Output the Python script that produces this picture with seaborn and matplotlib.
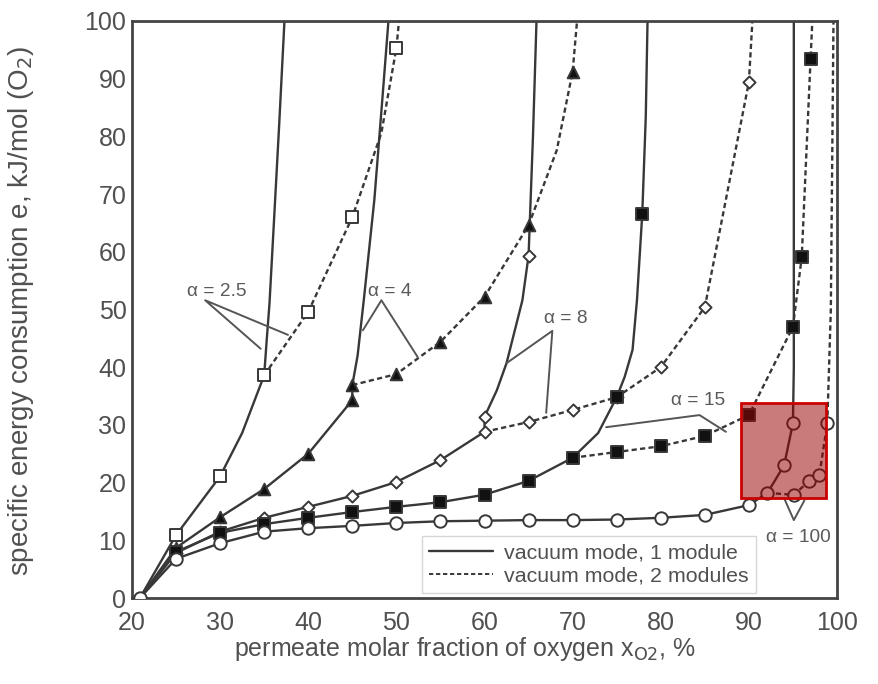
import matplotlib
matplotlib.use("Agg")
import matplotlib.pyplot as plt
import seaborn as sns
from matplotlib.lines import Line2D
from matplotlib.patches import Rectangle
from matplotlib.ticker import MultipleLocator

# alpha = 2.5 (open squares)
a25_x1 = [20.9, 25, 30, 32.5, 35, 35.3, 35.6, 36.1, 36.7, 37.3]
a25_y1 = [0, 10.9, 21.1, 28.6, 38.6, 45, 51, 65, 82, 100]
a25_mx1 = [25, 30, 35]
a25_my1 = [10.9, 21.1, 38.6]
a25_x2 = [35, 40, 45, 48.3, 50, 50.3]
a25_y2 = [38.6, 49.6, 66, 80.6, 95.3, 100]
a25_mx2 = [40, 45, 50]
a25_my2 = [49.6, 66, 95.3]

# alpha = 4 (filled triangles)
a4_x1 = [20.9, 25, 30, 35, 40, 45, 45, 45.6, 46.3, 47.5, 48.4, 49.1]
a4_y1 = [0, 8.7, 14.0, 18.9, 25.0, 34.3, 36.9, 42, 51.6, 69, 86.3, 100]
a4_mx1 = [25, 30, 35, 40, 45]
a4_my1 = [8.7, 14.0, 18.9, 25.0, 34.3]
a4_x2 = [45, 50, 55, 60, 65, 68.2, 70, 70.5]
a4_y2 = [36.9, 38.8, 44.4, 52.2, 64.6, 77.6, 91.2, 100]
a4_mx2 = [45, 50, 55, 60, 65, 70]
a4_my2 = [36.9, 38.8, 44.4, 52.2, 64.6, 91.2]

# alpha = 8 (open diamonds)
a8_x1 = [20.9, 25, 30, 35, 40, 45, 50, 55, 60, 60, 61.4, 62.5, 64.3, 65, 65.5, 65.9]
a8_y1 = [0, 7.8, 11.5, 13.9, 15.8, 17.7, 20.1, 23.9, 28.8, 31.4, 36, 40.7, 51.6, 59.3, 80, 100]
a8_mx1 = [25, 30, 35, 40, 45, 50, 55, 60, 60, 65]
a8_my1 = [7.8, 11.5, 13.9, 15.8, 17.7, 20.1, 23.9, 28.8, 31.4, 59.3]
a8_x2 = [60, 65, 70, 75, 80, 85, 90, 90.4]
a8_y2 = [28.8, 30.5, 32.6, 34.8, 40.0, 50.4, 89.4, 100]
a8_mx2 = [65, 70, 75, 80, 85, 90]
a8_my2 = [30.5, 32.6, 34.8, 40.0, 50.4, 89.4]

# alpha = 15 (filled squares)
a15_x1 = [20.9, 25, 30, 35, 40, 45, 50, 55, 60, 65, 70, 72.9, 75, 75.9, 76.8, 77.3,
          77.9, 78.3, 78.5]
a15_y1 = [0, 8.0, 11.3, 12.8, 13.9, 14.9, 15.8, 16.6, 17.9, 20.3, 24.3, 28.6, 34.8, 38.3, 43,
          51.6, 66.5, 83.4, 100]
a15_mx1 = [25, 30, 35, 40, 45, 50, 55, 60, 65, 70, 75, 77.9]
a15_my1 = [8.0, 11.3, 12.8, 13.9, 14.9, 15.8, 16.6, 17.9, 20.3, 24.3, 34.8, 66.5]
a15_x2 = [70, 75, 80, 85, 90, 95, 96, 97, 97.2]
a15_y2 = [24.3, 25.3, 26.3, 28.1, 31.7, 47, 59.1, 93.4, 100]
a15_mx2 = [75, 80, 85, 90, 95, 96, 97]
a15_my2 = [25.3, 26.3, 28.1, 31.7, 47, 59.1, 93.4]

# alpha = 100 (open circles)
a100_x1 = [20.9, 25, 30, 35, 40, 45, 50, 55, 60, 65, 70, 75, 80, 85, 90, 92.1, 94, 95, 95.1, 95.1]
a100_y1 = [0, 6.8, 9.5, 11.5, 12.1, 12.5, 13.0, 13.3, 13.4, 13.5, 13.5, 13.6, 13.9, 14.4, 16.1,
           18.2, 23, 30.3, 40, 100]
a100_mx1 = a100_x1[:18]
a100_my1 = a100_y1[:18]
a100_x2 = [92.1, 95.1, 96.8, 98, 98.9, 99.3, 99.6]
a100_y2 = [18.2, 17.9, 20.2, 21.3, 30.3, 50, 100]
a100_mx2 = [95.1, 96.8, 98, 98.9]
a100_my2 = [17.9, 20.2, 21.3, 30.3]

legend_labels = ["vacuum mode, 1 module", "vacuum mode, 2 modules"]

sns.set_style("white")
plt.rcParams['font.family'] = ['Liberation Sans', 'DejaVu Sans']

LC = '#383838'
TC = '#505050'
DASH = (0, (2.2, 1.4))

fig = plt.figure(figsize=(8.79, 6.84), dpi=100)
ax = fig.add_axes([132 / 879, 1 - 598 / 684, 705 / 879, 577 / 684])

curves = [
    (a25_x1, a25_y1, '-'), (a25_x2, a25_y2, DASH),
    (a4_x1, a4_y1, '-'), (a4_x2, a4_y2, DASH),
    (a8_x1, a8_y1, '-'), (a8_x2, a8_y2, DASH),
    (a15_x1, a15_y1, '-'), (a15_x2, a15_y2, DASH),
    (a100_x1, a100_y1, '-'), (a100_x2, a100_y2, DASH),
]
for cx, cy, ls in curves:
    sns.lineplot(x=cx, y=cy, sort=False, estimator=None, color=LC,
                 lw=1.7, linestyle=ls, ax=ax, zorder=2)

markers = [
    (a25_mx1 + a25_mx2, a25_my1 + a25_my2, 's', 'white', 85),
    (a4_mx1 + a4_mx2, a4_my1 + a4_my2, '^', '#111111', 70),
    (a8_mx1 + a8_mx2, a8_my1 + a8_my2, 'D', 'white', 38),
    (a15_mx1 + a15_mx2, a15_my1 + a15_my2, 's', '#111111', 75),
    (a100_mx1 + a100_mx2, a100_my1 + a100_my2, 'o', 'white', 80),
]
for mx, my, mk, fc, s in markers:
    sns.scatterplot(x=mx, y=my, marker=mk, color=fc, edgecolor=LC,
                    linewidth=1.4, s=s, ax=ax, zorder=3)

# alpha callouts
ann_kw = dict(color='#555555', lw=1.4, zorder=2)
ax.plot([34.6, 28.3, 37.7], [43.2, 51.6, 45.6], **ann_kw)
ax.plot([46.2, 48.3, 52.4], [46.4, 51.6, 41.8], **ann_kw)
ax.plot([62.5, 67.7, 67.0], [40.7, 46.3, 32.1], **ann_kw)
ax.plot([73.8, 84.4, 87.4], [29.6, 31.7, 28.8], **ann_kw)
ax.plot([94.0, 95.1, 96.3], [17.3, 13.5, 16.9], **ann_kw)

txt_kw = dict(fontsize=13.8, color='#5a5a5a', ha='center', va='center')
ax.text(29.6, 53.2, "α = 2.5", **txt_kw)
ax.text(49.3, 53.2, "α = 4", **txt_kw)
ax.text(69.2, 48.5, "α = 8", **txt_kw)
ax.text(84.2, 34.2, "α = 15", **txt_kw)
ax.text(95.6, 10.4, "α = 100", **txt_kw)

# highlighted region
ax.add_patch(Rectangle((89.1, 17.3), 9.7, 16.5, facecolor=(0.6, 0.0, 0.0, 0.52),
                       edgecolor='#cc0000', lw=2, zorder=5))

ax.set_xlim(20, 100)
ax.set_ylim(0, 100)
ax.xaxis.set_major_locator(MultipleLocator(10))
ax.xaxis.set_minor_locator(MultipleLocator(2))
ax.yaxis.set_major_locator(MultipleLocator(10))
ax.yaxis.set_minor_locator(MultipleLocator(1))
ax.tick_params(which='both', direction='in', top=False, right=False,
               colors='#444444', labelcolor=TC, labelsize=18)
ax.tick_params(axis='x', which='major', pad=9)
ax.tick_params(axis='y', which='major', pad=4)
ax.tick_params(which='major', length=6, width=1.3)
ax.tick_params(which='minor', length=3.5, width=1.1)
for sp in ax.spines.values():
    sp.set_color('#444444')
    sp.set_linewidth(2)

ax.set_xlabel("permeate molar fraction of oxygen x$_{\\mathrm{O2}}$, %",
              fontsize=18, color=TC)
ax.xaxis.set_label_coords(0.472, -0.064)
ax.set_ylabel("specific energy consumption e, kJ/mol (O$_2$)",
              fontsize=20, color=TC)
ax.yaxis.set_label_coords(-0.136, 0.497)

handles = [Line2D([], [], color=LC, lw=1.7, linestyle='-'),
           Line2D([], [], color=LC, lw=1.4, linestyle=DASH)]
ax.legend(handles, legend_labels, loc='lower left',
          bbox_to_anchor=(0.411, 0.009), borderaxespad=0, fontsize=15.4,
          frameon=True, fancybox=False, edgecolor='#cccccc', labelcolor=TC,
          handlelength=3.0, borderpad=0.35, labelspacing=0.2,
          handletextpad=0.5)

fig.savefig("out.png", dpi=100)
